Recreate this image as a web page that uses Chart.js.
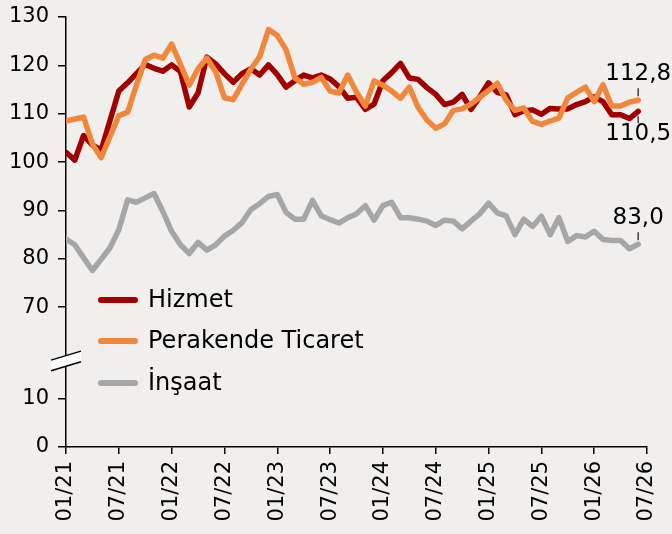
<!DOCTYPE html>
<html>
<head>
<meta charset="utf-8">
<script src="https://cdn.jsdelivr.net/npm/chart.js@4/dist/chart.umd.min.js"></script>
<style>
  html, body { margin: 0; padding: 0; background: #F1EFED; }
  #wrap { width: 672px; height: 534px; }
</style>
</head>
<body>
<div id="wrap"><canvas id="c" width="672" height="534"></canvas></div>
<script>
// ---- data (monthly, 01/21 .. 06/26) ----
const xTickLabels = ['01/21','07/21','01/22','07/22','01/23','07/23','01/24','07/24','01/25','07/25','01/26','07/26'];
const yTickValues = [0, 10, 70, 80, 90, 100, 110, 120, 130];

const hizmet = [102.0,100.4,105.5,103.5,102.5,108.6,114.7,116.4,118.3,120.2,119.4,118.8,120.1,118.7,111.4,114.3,121.7,120.3,118.3,116.5,118.3,119.3,118.0,120.1,118.1,115.5,116.8,118.0,117.4,118.0,117.2,115.6,113.2,113.4,110.9,112.0,116.8,118.5,120.4,117.4,117.1,115.4,114.0,111.9,112.4,114.0,110.9,113.5,116.4,114.4,113.9,109.8,110.6,110.8,109.9,111.1,111.0,111.0,111.9,112.5,113.5,112.5,109.8,109.8,109.0,110.5];
const perakende = [108.5,108.9,109.3,103.7,100.9,105.3,109.6,110.3,115.9,121.2,122.1,121.5,124.4,120.2,115.9,119.3,121.5,118.7,113.3,112.9,116.1,119.2,121.8,127.4,126.2,123.2,117.4,116.1,116.5,117.5,114.7,114.3,118.0,114.5,111.6,116.8,115.9,114.7,113.2,115.5,111.3,108.7,107.0,107.9,110.7,111.0,112.0,113.4,114.8,116.3,112.8,110.7,111.2,108.4,107.8,108.5,109.1,113.3,114.4,115.5,112.5,116.0,111.6,111.6,112.4,112.8];
const insaat = [84.1,82.9,80.2,77.6,79.9,82.3,86.0,92.2,91.7,92.6,93.5,89.8,85.7,82.9,81.1,83.4,81.8,82.9,84.7,85.9,87.5,90.2,91.4,92.9,93.3,89.6,88.2,88.2,92.1,88.9,88.1,87.4,88.5,89.3,91.0,88.0,91.0,91.7,88.5,88.5,88.2,87.8,86.9,88.0,87.8,86.2,87.8,89.3,91.5,89.5,88.9,85.0,88.2,86.7,88.8,85.0,88.5,83.6,84.8,84.5,85.7,84.0,83.8,83.8,82.1,83.0];

const seriesNames = ['Hizmet', 'Perakende Ticaret', 'İnşaat'];
const seriesColors = ['#A00000', '#F0873A', '#A6A6A6'];

// ---- broken axis mapping ----
const breakLow = 10, breakHigh = 70, gapUnits = 18.9;
function toAxis(v) { return v >= breakHigh ? v - breakHigh + breakLow + gapUnits : v; }
function pts(arr) { return arr.map((v, i) => ({ x: i, y: toAxis(v) })); }

const FONT = 'DejaVu Sans';

const legendPlugin = {
  id: 'customLegend',
  afterDraw(chart) {
    const ctx = chart.ctx;
    const left = chart.chartArea.left;
    const rowsY = [300, 341, 383];
    ctx.save();
    seriesNames.forEach((name, k) => {
      const y = rowsY[k];
      ctx.strokeStyle = seriesColors[k];
      ctx.lineWidth = 6;
      ctx.lineCap = 'round';
      ctx.beginPath();
      ctx.moveTo(left + 35, y);
      ctx.lineTo(left + 69, y);
      ctx.stroke();
      ctx.fillStyle = '#000';
      ctx.font = '24px "' + FONT + '"';
      ctx.textBaseline = 'middle';
      ctx.textAlign = 'left';
      ctx.fillText(name, left + 82, y + 1);
    });
    ctx.restore();
  }
};

const breakPlugin = {
  id: 'axisBreak',
  afterDraw(chart) {
    const ctx = chart.ctx;
    const ys = chart.scales.y;
    const x0 = chart.chartArea.left;
    const yc = ys.getPixelForValue(17.8);
    const dx = 15, slope = 0.3, h = 5.3;
    ctx.save();
    ctx.fillStyle = '#FFFFFF';
    ctx.beginPath();
    ctx.moveTo(x0 - dx, yc - h + dx * slope);
    ctx.lineTo(x0 + dx, yc - h - dx * slope);
    ctx.lineTo(x0 + dx, yc + h - dx * slope);
    ctx.lineTo(x0 - dx, yc + h + dx * slope);
    ctx.closePath();
    ctx.fill();
    ctx.strokeStyle = '#000';
    ctx.lineWidth = 1.5;
    ctx.beginPath();
    ctx.moveTo(x0 - dx, yc - h + dx * slope);
    ctx.lineTo(x0 + dx, yc - h - dx * slope);
    ctx.moveTo(x0 - dx, yc + h + dx * slope);
    ctx.lineTo(x0 + dx, yc + h - dx * slope);
    ctx.stroke();
    ctx.restore();
  }
};

const endLabelPlugin = {
  id: 'endLabels',
  afterDatasetsDraw(chart) {
    const ctx = chart.ctx;
    const cfg = [
      { ds: 0, arr: hizmet, above: false },
      { ds: 1, arr: perakende, above: true },
      { ds: 2, arr: insaat, above: true }
    ];
    ctx.save();
    cfg.forEach(c => {
      const meta = chart.getDatasetMeta(c.ds);
      const p = meta.data[meta.data.length - 1];
      const val = c.arr[c.arr.length - 1].toFixed(1).replace('.', ',');
      ctx.strokeStyle = '#404040';
      ctx.lineWidth = 1.5;
      ctx.beginPath();
      if (c.above) { ctx.moveTo(p.x, p.y - 4); ctx.lineTo(p.x, p.y - 12); }
      else { ctx.moveTo(p.x, p.y + 5); ctx.lineTo(p.x, p.y + 12); }
      ctx.stroke();
      ctx.fillStyle = '#000';
      ctx.font = '23px "' + FONT + '"';
      ctx.textAlign = 'center';
      ctx.textBaseline = 'middle';
      ctx.fillText(val, p.x, c.above ? p.y - 26 : p.y + 23);
    });
    ctx.restore();
  }
};

new Chart(document.getElementById('c'), {
  type: 'line',
  data: {
    datasets: [
      { label: seriesNames[0], data: pts(hizmet), borderColor: seriesColors[0], order: 1 },
      { label: seriesNames[1], data: pts(perakende), borderColor: seriesColors[1], order: 0 },
      { label: seriesNames[2], data: pts(insaat), borderColor: seriesColors[2], order: 2 }
    ]
  },
  options: {
    responsive: false,
    animation: false,
    events: [],
    datasets: { line: { borderWidth: 5.5, pointRadius: 0, tension: 0, borderJoinStyle: 'round', borderCapStyle: 'round', fill: false } },
    layout: { padding: { top: 17, right: 25, left: 0, bottom: 0 } },
    plugins: { legend: { display: false }, tooltip: { enabled: false } },
    scales: {
      x: {
        type: 'linear',
        min: 0, max: 66,
        afterBuildTicks(scale) { scale.ticks = xTickLabels.map((_, k) => ({ value: k * 6 })); },
        afterFit(scale) { scale.height = 87; scale.paddingLeft = 0; scale.paddingRight = 0; },
        ticks: {
          autoSkip: false,
          minRotation: 90, maxRotation: 90,
          padding: 7,
          color: '#000',
          font: { family: FONT, size: 21 },
          callback(value) { return xTickLabels[Math.round(value / 6)]; }
        },
        grid: { drawOnChartArea: false, drawTicks: true, tickLength: 7, color: '#000', lineWidth: 1.5 },
        border: { display: true, color: '#000', width: 1.5 }
      },
      y: {
        type: 'linear',
        min: 0, max: toAxis(130),
        afterBuildTicks(scale) { scale.ticks = yTickValues.map(v => ({ value: toAxis(v) })); },
        afterFit(scale) { scale.width = 66; scale.paddingTop = 0; scale.paddingBottom = 0; },
        ticks: {
          padding: 9,
          color: '#000',
          font: { family: FONT, size: 21 },
          callback(value, index) { return String(yTickValues[index]); }
        },
        grid: { drawOnChartArea: false, drawTicks: true, tickLength: 8, color: '#000', lineWidth: 1.5 },
        border: { display: true, color: '#000', width: 1.5 }
      }
    }
  },
  plugins: [legendPlugin, breakPlugin, endLabelPlugin]
});
</script>
</body>
</html>
